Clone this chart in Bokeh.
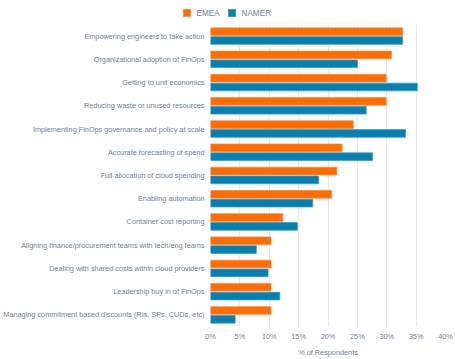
from bokeh.plotting import figure
from bokeh.layouts import column
from bokeh.models import ColumnDataSource, FactorRange, Range1d, FixedTicker, PrintfTickFormatter, Div
from bokeh.transform import dodge
from bokeh.embed import file_html
from bokeh.resources import INLINE

categories = [
    "Empowering engineers to take action",
    "Organizational adoption of FinOps",
    "Getting to unit economics",
    "Reducing waste or unused resources",
    "Implementing FinOps governance and policy at scale",
    "Accurate forecasting of spend",
    "Full allocation of cloud spending",
    "Enabling automation",
    "Container cost reporting",
    "Aligning finance/procurement teams with tech/eng teams",
    "Dealing with shared costs within cloud providers",
    "Leadership buy in of FinOps",
    "Managing commitment based discounts (RIs, SPs, CUDs, etc)",
]
series_names = ["EMEA", "NAMER"]
emea = [32.7, 30.8, 29.9, 29.9, 24.3, 22.4, 21.5, 20.6, 12.3, 10.3, 10.3, 10.3, 10.3]
namer = [32.7, 25.0, 35.2, 26.5, 33.2, 27.6, 18.4, 17.4, 14.8, 7.8, 9.8, 11.8, 4.2]
x_ticks = [0, 5, 10, 15, 20, 25, 30, 35, 40]

TEXT = "#6f8199"
FONT = "Liberation Sans"
ORANGE = "#ff6d00"
BLUE = "#0580b0"
ORANGE_EDGE = "#ff8c3c"
BLUE_EDGE = "#3a9cc4"

src = ColumnDataSource(dict(cat=categories, emea=emea, namer=namer))

# ---- main chart ----
p = figure(
    width=455, height=335,
    y_range=FactorRange(factors=list(reversed(categories))),
    x_range=Range1d(0, 40),
    output_backend="svg", toolbar_location=None,
    min_border_left=210, min_border_right=10, min_border_top=0, min_border_bottom=30,
)
p.outline_line_color = None
p.background_fill_color = "white"
p.border_fill_color = "white"

p.hbar(y=dodge("cat", 0.19, range=p.y_range), left=0, right="emea", height=0.33,
       source=src, fill_color=ORANGE, line_color=ORANGE_EDGE, line_width=0.8)
p.hbar(y=dodge("cat", -0.19, range=p.y_range), left=0, right="namer", height=0.33,
       source=src, fill_color=BLUE, line_color=BLUE_EDGE, line_width=0.8)

p.xaxis.ticker = FixedTicker(ticks=x_ticks)
p.xaxis.formatter = PrintfTickFormatter(format="%d%%")
p.xaxis.axis_label = "% of Respondents"
for ax in (p.xaxis[0], p.yaxis[0]):
    ax.axis_line_color = None
    ax.major_tick_line_color = None
    ax.minor_tick_line_color = None
    ax.major_tick_out = 0
    ax.major_tick_in = 0
    ax.minor_tick_out = 0
    ax.minor_tick_in = 0
    ax.major_label_text_color = TEXT
    ax.major_label_text_font = FONT
    ax.major_label_text_font_size = "7.3px"
ax = p.xaxis[0]
ax.major_label_standoff = 5
ax.axis_label_text_color = TEXT
ax.axis_label_text_font = FONT
ax.axis_label_text_font_size = "7.3px"
ax.axis_label_text_font_style = "normal"
ax.axis_label_standoff = 4
p.yaxis.major_label_standoff = 6

p.xgrid.grid_line_color = "#e4e9f1"
p.xgrid.ticker = FixedTicker(ticks=x_ticks)
p.ygrid.grid_line_color = None

# ---- legend strip (HTML) ----
swatch = ("position:absolute;left:{x}px;top:9px;width:8px;height:8px;"
          "background:{c};border:0.5px solid {e};")
label = "position:absolute;left:{x}px;top:8px;line-height:11px;"
legend_html = (
    f'<div style="position:relative;width:455px;height:24px;font-family:\'{FONT}\';'
    f'font-size:8.2px;color:{TEXT};">'
    f'<span style="{swatch.format(x=183, c=ORANGE, e=ORANGE_EDGE)}"></span>'
    f'<span style="{label.format(x=196.5)}">{series_names[0]}</span>'
    f'<span style="{swatch.format(x=228, c=BLUE, e=BLUE_EDGE)}"></span>'
    f'<span style="{label.format(x=241.5)}">{series_names[1]}</span>'
    '</div>'
)
lg = Div(text=legend_html, width=455, height=24, margin=0)

layout = column(lg, p, spacing=0)

open("out.html", "w").write(file_html(layout, INLINE))
